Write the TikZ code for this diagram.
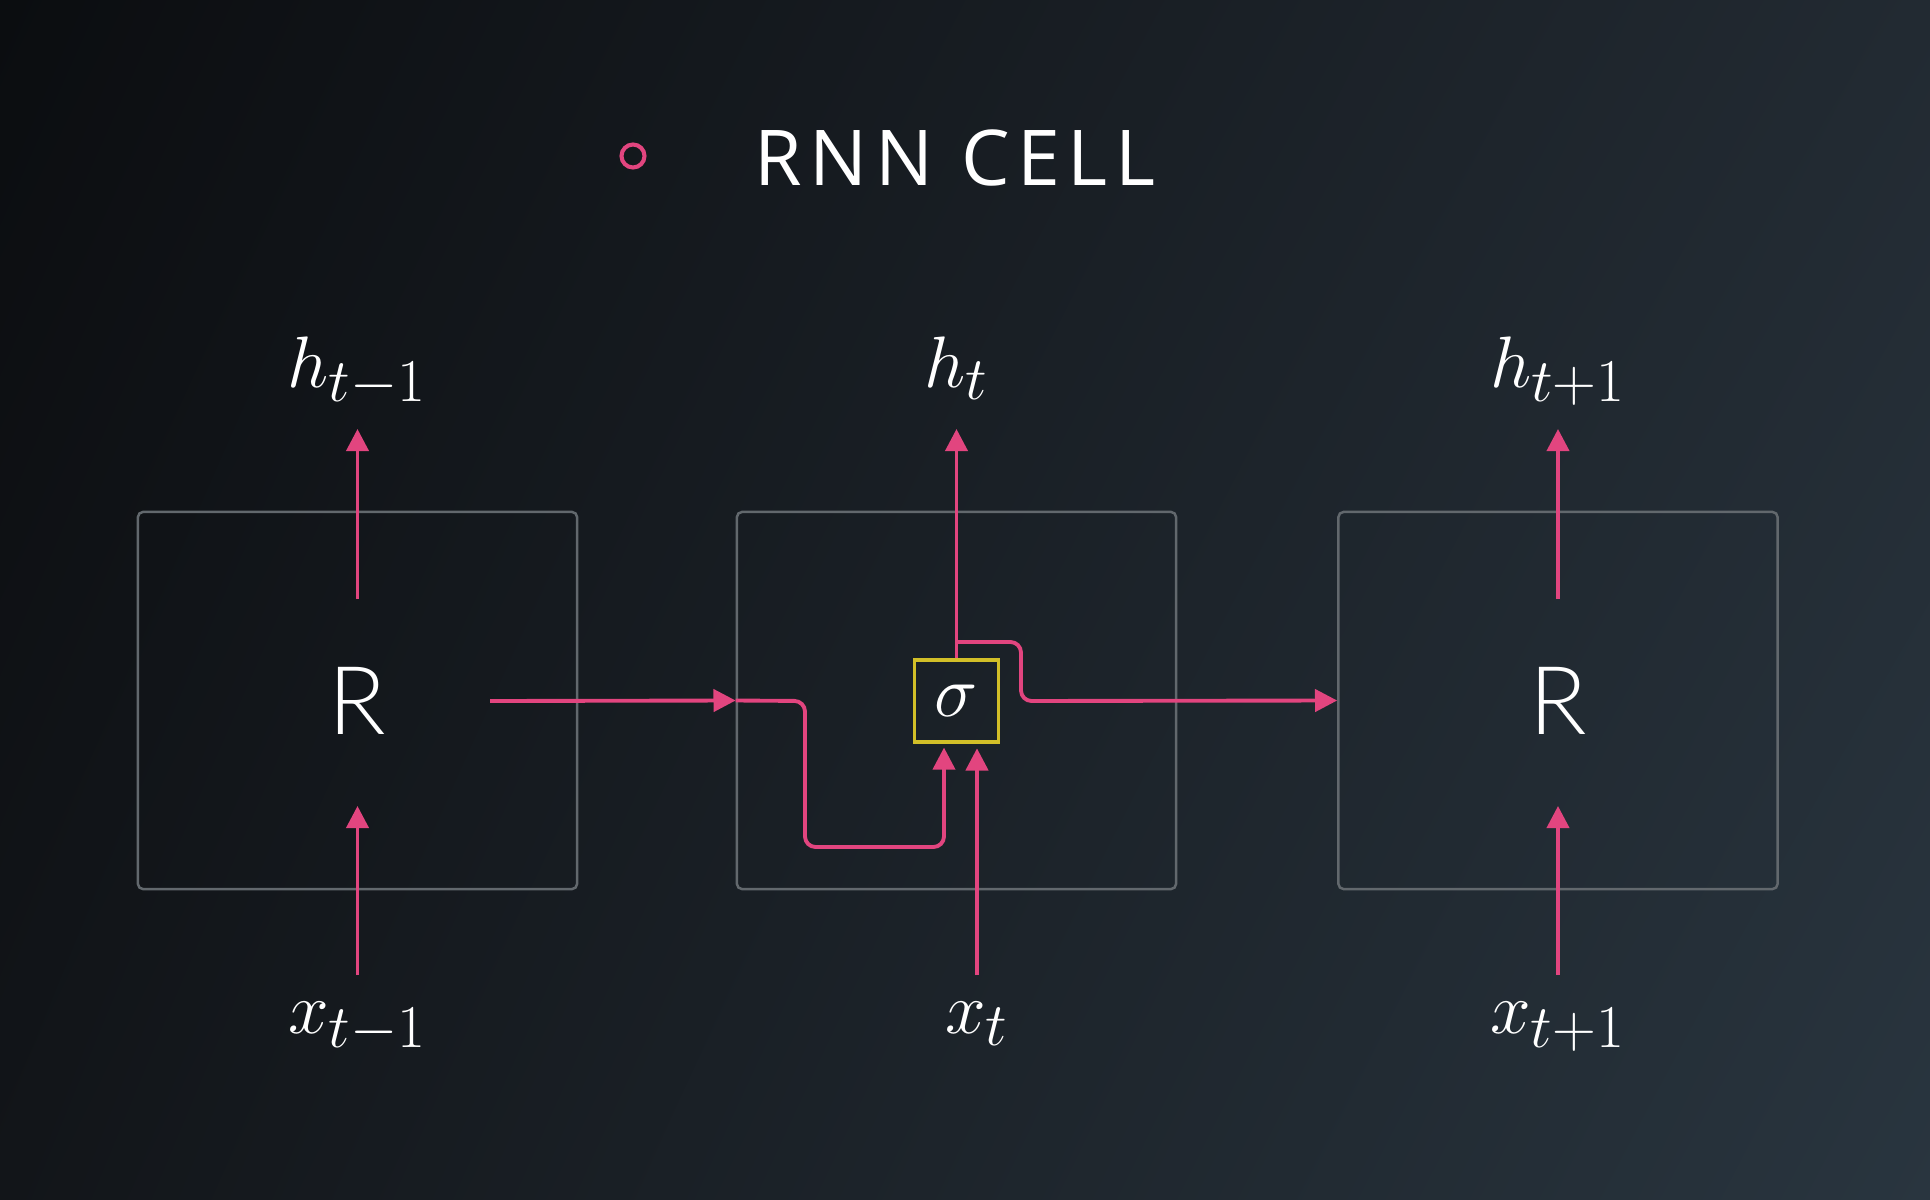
\documentclass[tikz,border=0pt]{standalone}
\usepackage{fontspec}
\newfontfamily\titlefont[LetterSpace=10]{Open Sans}
\newfontfamily\cellfont{Lato Light}
\usetikzlibrary{arrows.meta,shadings}
\DeclareMathSizes{20.74}{20.74}{17.28}{12}
\definecolor{pinkline}{HTML}{E2457F}
\definecolor{boxgray}{HTML}{62686D}
\definecolor{sigyellow}{HTML}{D2BF28}
\definecolor{bgUL}{HTML}{0B0D10}
\definecolor{bgUR}{HTML}{222A32}
\definecolor{bgLL}{HTML}{121519}
\definecolor{bgLR}{HTML}{29353F}
\tikzset{
  cellbox/.style={draw=boxgray, line width=0.7pt, rounded corners=1.5pt,
    minimum width=4.39cm, minimum height=3.77cm, inner sep=0pt, text=white,
    font=\cellfont\fontsize{27}{30}\selectfont},
  sigbox/.style={draw=sigyellow, line width=1pt, minimum width=0.84cm,
    minimum height=0.82cm, inner sep=0pt, text=white,
    font=\fontsize{20.74}{25}\selectfont},
  lbl/.style={text=white, anchor=base, inner sep=0pt,
    font=\fontsize{20.74}{25}\selectfont},
  arr/.style={draw=pinkline, line width=1.1pt,
    -{Triangle[length=6.3pt,width=6.3pt]}},
  wire/.style={rounded corners=3pt},
}
\begin{document}
\begin{tikzpicture}[x=0.01cm,y=-0.01cm]
\shade[upper left=bgUL, upper right=bgUR, lower left=bgLL, lower right=bgLR]
  (0,0) rectangle (1930,1200);
\useasboundingbox (0,0) rectangle (1930,1200);

% title
\node[circle, draw=pinkline, line width=1.15pt, minimum size=0.23cm, inner sep=0pt] (bullet) at (633,156) {};
\node[anchor=base, text=white, inner sep=0pt, font=\titlefont\fontsize{21.9}{26}\selectfont] (title) at (955,185) {RNN CELL};

% cells
\node[cellbox] (cL) at (357.5,700.5) {R};
\node[cellbox] (cM) at (956.5,700.5) {};
\node[cellbox] (cR) at (1558,700.5) {R};
\node[sigbox] (sig) at (956.5,701) {$\sigma$};

% labels
\node[lbl] (hL) at (357.5,387) {$h_{t-1}$};
\node[lbl] (hM) at (957,387) {$h_{t}$};
\node[lbl] (hR) at (1558,387) {$h_{t+1}$};
\node[lbl] (xL) at (357.5,1033) {$x_{t-1}$};
\node[lbl] (xM) at (977,1033) {$x_{t}$};
\node[lbl] (xR) at (1558,1033) {$x_{t+1}$};

% coordinates
\coordinate (Lup0) at (357.5,599);
\coordinate (Lup1) at (357.5,429);
\coordinate (Ldn0) at (357.5,975);
\coordinate (Ldn1) at (357.5,806);
\coordinate (Rup0) at (1558,599);
\coordinate (Rup1) at (1558,429);
\coordinate (Rdn0) at (1558,975);
\coordinate (Rdn1) at (1558,806);
\coordinate (Mup1) at (956.5,429);
\coordinate (xin0) at (977,975);
\coordinate (hin0) at (490,701);
\coordinate (branch) at (956.5,642);

% connectors
\draw[arr] (Lup0) -- (Lup1);
\draw[arr] (Ldn0) -- (Ldn1);
\draw[arr] (Rup0) -- (Rup1);
\draw[arr] (Rdn0) -- (Rdn1);
\draw[arr] (sig.north) -- (Mup1);
\draw[arr, shorten >=1.3pt] (xin0) -- (xin0 |- sig.south);
\draw[arr] (hin0) -- (cM.west);
\draw[arr, wire, shorten >=1.3pt] (cM.west) -- (805,701) -- (805,847) -- (944,847) -- (944,743);
\draw[arr, wire] (branch) -- (1021,642) -- (1021,701) -- (cR.west);
\end{tikzpicture}
\end{document}
